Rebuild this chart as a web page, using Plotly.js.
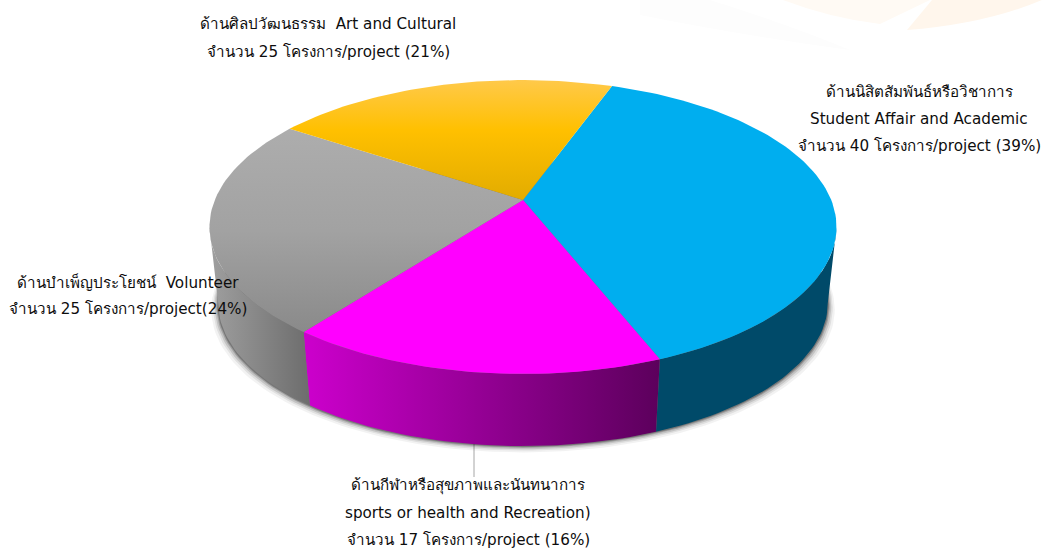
<!DOCTYPE html>
<html><head><meta charset="utf-8">
<script src="https://cdn.plot.ly/plotly-3.0.1.min.js"></script>
<style>html,body{margin:0;padding:0;background:#fff}</style></head>
<body><div id="chart" style="width:1042px;height:548px"></div>
<script>
// Data, clockwise from the blue slice (shares)
const categories = ["Student Affair and Academic", "sports or health and Recreation", "Volunteer", "Art and Cultural"];
const sharePercent = [38.5, 16.4, 23.9, 21.2];
const projectCounts = [40, 17, 25, 25];
const labelStudent = ["ด้านนิสิตสัมพันธ์หรือวิชาการ", "Student Affair and Academic", "จำนวน 40 โครงการ/project (39%)"];
const labelSports = ["ด้านกีฬาหรือสุขภาพและนันทนาการ", "sports or health and Recreation)", "จำนวน 17 โครงการ/project (16%)"];
const labelVolunteer = ["ด้านบำเพ็ญประโยชน์\u00a0\u00a0Volunteer", "จำนวน 25 โครงการ/project(24%)"];
const labelArt = ["ด้านศิลปวัฒนธรรม\u00a0\u00a0Art and Cultural", "จำนวน 25 โครงการ/project (21%)"];

// Perspective disc geometry
const CX=523, CY=200, A=142, C=0.1837, D=308.2, START=19.8, WALL=77, WS=0.972;
const TANGENT=Math.acos(-C)*180/Math.PI; // right-hand silhouette angle
function topPt(t){const r=t*Math.PI/180,u=Math.sin(r),v=Math.cos(r),s=1+C*v;return [CX+D*u/s,CY-A*v/s];}
function botPt(t){const p=topPt(t);return [CX+WS*(p[0]-CX),CY+WS*(p[1]-CY)+WALL];}
function arc(f,a,b){const n=Math.max(2,Math.ceil(Math.abs(b-a)/1.5)),o=[];for(let i=0;i<=n;i++)o.push(f(a+(b-a)*i/n));return o;}
function poly(pts,extra){return Object.assign({type:'scatter',mode:'lines',x:pts.map(p=>p[0]),y:pts.map(p=>p[1]),fill:'toself',line:{width:0},hoverinfo:'skip',showlegend:false},extra);}

const topFill=[
 {fillcolor:'#00AEEF'},
 {fillcolor:'#FF00FF'},
 {fillgradient:{type:'vertical',start:129,stop:332,colorscale:[[0,'#ADADAD'],[0.5,'#A2A2A2'],[1,'#8A8A8A']]}},
 {fillgradient:{type:'vertical',start:80,stop:200,colorscale:[[0,'#FFC94A'],[0.42,'#FFC000'],[1,'#E2AC00']]}}
];
const wallFill=[
 {fillcolor:'#004A69'},
 {fillgradient:{type:'horizontal',start:305,stop:659,colorscale:[[0,'#CC00CC'],[1,'#5C005C']]}},
 {fillgradient:{type:'horizontal',start:212,stop:311,colorscale:[[0,'#9E9E9E'],[1,'#6C6C6C']]}},
 {fillcolor:'#000000'}
];

const traces=[];
// soft shadow under the disc
[[7,0.05],[5,0.08],[3.5,0.12],[2,0.18],[1,0.25]].forEach(([g,al])=>{
  const pts=arc(t=>{const p=botPt(t);return [CX+(p[0]-CX)*(1+g/305),p[1]+g*0.9];},0,360);
  traces.push(poly(pts,{fillcolor:'rgba(0,0,0,'+al+')'}));
});
// slice angle spans derived from the values
const total=sharePercent.reduce((a,b)=>a+b,0);
let angle=START; const spans=sharePercent.map(v=>{const s=[angle,angle+v/total*360];angle=s[1];return s;});
// side wall
spans.forEach((s,i)=>{
  const a=Math.max(s[0],TANGENT), b=Math.min(s[1],360-TANGENT);
  if(b<=a) return;
  traces.push(poly(arc(topPt,a,b).concat(arc(botPt,b,a)),wallFill[i]));
});
// top face
spans.forEach((s,i)=>{
  traces.push(poly([[CX,CY]].concat(arc(topPt,s[0],s[1])),Object.assign({},topFill[i],{line:{width:0.5,color:'rgba(0,0,0,0)'}})));
});

const FONT={family:'"DejaVu Sans","Noto Sans",sans-serif',size:15.2,color:'#0d0d0d'};
function lines(arr,x,ys){return arr.map((t,i)=>({xref:'x',yref:'y',x:x,y:ys[i],text:t,showarrow:false,xanchor:'center',yanchor:'middle',font:FONT}));}
const annotations=[].concat(
 lines(labelArt,328,[24,52]),
 lines(labelStudent,919,[92,119,146]),
 lines(labelVolunteer,128,[282,309]),
 lines(labelSports,468,[485,513,540])
);
const shapes=[
 {type:'path',layer:'below',path:'M 783 0 Q 830 18 880 24 L 930 0 Z',fillcolor:'#FFFAF4',line:{width:0}},
 {type:'path',layer:'below',path:'M 907 30 Q 985 24 1042 0 L 932 0 Z',fillcolor:'#FFF6EC',line:{width:0}},
 {type:'path',layer:'below',path:'M 640 0 L 710 0 Q 790 25 850 50 Q 740 35 640 15 Z',fillcolor:'#FDFDFD',line:{width:0}},
 {type:'line',layer:'below',x0:474,x1:474,y0:444,y1:477,line:{color:'#A6A6A6',width:1}}
];
Plotly.newPlot('chart',traces,{
 width:1042,height:548,margin:{l:0,r:0,t:0,b:0},showlegend:false,
 paper_bgcolor:'#fff',plot_bgcolor:'rgba(0,0,0,0)',
 xaxis:{range:[0,1042],visible:false,fixedrange:true},
 yaxis:{range:[548,0],visible:false,fixedrange:true},
 annotations,shapes
},{displayModeBar:false,staticPlot:true});
</script></body></html>
